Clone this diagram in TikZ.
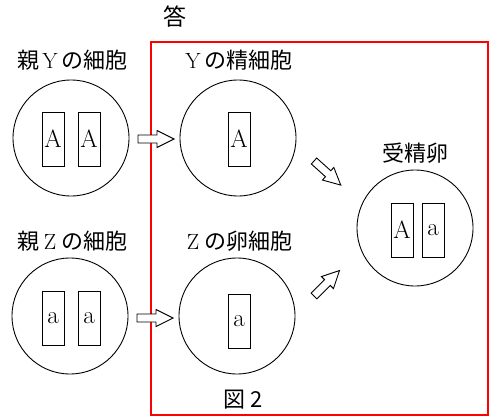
\documentclass[tikz,border=0pt]{standalone}
\usepackage{fontspec}
\newfontfamily\jp{Noto Sans CJK JP}
\newcommand{\fwl}[1]{\makebox[1em]{\rmfamily #1}}
\tikzset{
  cell/.style={draw, circle, line width=0.9pt, minimum size=116pt, inner sep=0pt},
  chrom/.style={draw, line width=0.9pt, minimum width=22pt, minimum height=54pt, inner sep=0pt, font=\fontsize{25}{25}\selectfont},
  label/.style={font=\jp\fontsize{22}{22}\selectfont, inner sep=0pt},
  blockarrow/.pic={\draw[line width=0.9pt, fill=white] (0,-4) -- (19,-4) -- (19,-8.5) -- (36,0) -- (19,8.5) -- (19,4) -- (0,4) -- cycle;}
}
\begin{document}
\begin{tikzpicture}[x=1pt,y=-1pt]
\useasboundingbox (0,0) rectangle (489,417);
% answer frame
\node[draw=red, line width=2pt, minimum width=337pt, minimum height=373pt, inner sep=0pt, anchor=north west] (frame) at (150,41) {};
\node[label, font=\jp\fontsize{23}{23}\selectfont] (ans) at (175,17) {答};
% cells
\node[cell] (py) at (71,138) {};
\node[cell] (sy) at (238,138) {};
\node[cell] (pz) at (70,316) {};
\node[cell] (ez) at (237,316) {};
\node[cell] (fe) at (415,228) {};
% labels
\node[label] (lpy) at (72,60) {親\fwl{Y}の細胞};
\node[label] (lsy) at (237,60) {\fwl{Y}の精細胞};
\node[label] (lpz) at (72,241) {親\fwl{Z}の細胞};
\node[label] (lez) at (237,241) {\fwl{Z}の卵細胞};
\node[label] (lfe) at (415,153) {受精卵};
\node[label] (fig) at (243,400) {図 2};
% chromosomes
\node[chrom] (py1) at (53,139) {A};
\node[chrom] (py2) at (89,139) {A};
\node[chrom] (sy1) at (239,139) {A};
\node[chrom] (pz1) at (53,318) {a};
\node[chrom] (pz2) at (89,318) {a};
\node[chrom] (ez1) at (239,321) {a};
\node[chrom] (fe1) at (402,230) {A};
\node[chrom] (fe2) at (433,230) {a};
% block arrows
\coordinate (a1) at (138,139);
\coordinate (a2) at (137,318);
\coordinate (a3) at (314,161);
\coordinate (a4) at (314,296);
\pic at (a1) {blockarrow};
\pic at (a2) {blockarrow};
\pic[rotate=-42] at (a3) {blockarrow};
\pic[rotate=45] at (a4) {blockarrow};
\end{tikzpicture}
\end{document}
